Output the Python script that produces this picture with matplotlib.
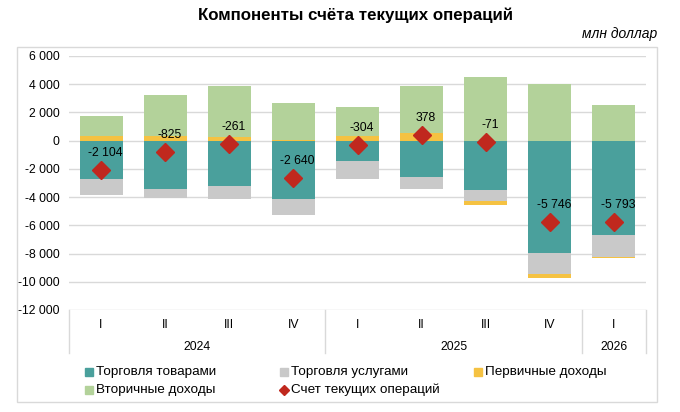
import matplotlib
matplotlib.use("Agg")
import matplotlib.pyplot as plt
from matplotlib.patches import Rectangle
from matplotlib.lines import Line2D
import numpy as np

plt.rcParams['font.family'] = ['Liberation Sans', 'DejaVu Sans']

quarters = ["I", "II", "III", "IV", "I", "II", "III", "IV", "I"]
years = ["2024", "2025", "2026"]
year_spans = [(0, 3), (4, 7), (8, 8)]

goods = [-2750, -3400, -3230, -4140, -1420, -2580, -3530, -7950, -6700]
services = [-1130, -690, -920, -1160, -1270, -880, -780, -1480, -1530]
primary = [330, 355, 240, 20, 355, 520, -260, -300, -60]
secondary = [1420, 2890, 3640, 2620, 2030, 3320, 4500, 3990, 2500]
current = [-2104, -825, -261, -2640, -304, 378, -71, -5746, -5793]

c_goods = "#4aa09c"
c_serv = "#c9c9c9"
c_prim = "#f5c242"
c_sec = "#b3d29a"
c_ca = "#c0281e"

fig = plt.figure(figsize=(6.8, 4.12), dpi=100)
W, H = 680, 412
ax = fig.add_axes([69 / W, 1 - 310 / H, (646 - 69) / W, (310 - 56) / H])

x = np.arange(len(quarters))
bw = 0.67
goods = np.array(goods, float)
services = np.array(services, float)
primary = np.array(primary, float)
secondary = np.array(secondary, float)

pos_base = np.zeros(len(x))
neg_base = np.zeros(len(x))
for vals, col in [(goods, c_goods), (services, c_serv), (primary, c_prim), (secondary, c_sec)]:
    bottoms = np.where(vals >= 0, pos_base, neg_base)
    ax.bar(x, vals, bw, bottom=bottoms, color=col, zorder=2, linewidth=0)
    pos_base = pos_base + np.where(vals >= 0, vals, 0)
    neg_base = neg_base + np.where(vals < 0, vals, 0)

ax.plot(x, current, linestyle='none', marker='D', markersize=9.5, color=c_ca, zorder=4)
for xi, v in zip(x, current):
    lab = f"{v:,}".replace(",", " ")
    ax.annotate(lab, (xi, v), xytext=(3, 8), textcoords='offset points',
                ha='center', va='bottom', fontsize=8.8, zorder=5)

ax.set_xlim(-0.5, len(x) - 0.5)
ax.set_ylim(-12000, 6000)
ax.set_yticks(np.arange(-12000, 6001, 2000))
ax.set_yticklabels([f"{t:,}".replace(",", " ") for t in range(-12000, 6001, 2000)], fontsize=8.8)
ax.tick_params(axis='y', length=0, pad=7)
ax.set_xticks([])
for s in ax.spines.values():
    s.set_visible(False)
ax.grid(axis='y', color='#d9d9d9', linewidth=1, zorder=0)
ax.set_axisbelow(True)

# category axis
trans = ax.get_xaxis_transform()
for xi, q in zip(x, quarters):
    ax.text(xi, -0.059, q, transform=trans, ha='center', va='center', fontsize=8.8)
for (a, b), y in zip(year_spans, years):
    ax.text((a + b) / 2, -0.146, y, transform=trans, ha='center', va='center', fontsize=8.8)
for sep in [-0.5, 3.5, 7.5, 8.5]:
    ax.add_line(Line2D([sep, sep], [0, -0.169], transform=trans, color='#d9d9d9',
                       linewidth=1, clip_on=False))

# outer frame
fig.add_artist(Rectangle((17 / W, 1 - 402 / H), (657 - 17) / W, (402 - 47) / H,
                         transform=fig.transFigure, fill=False, edgecolor='#d9d9d9', linewidth=1))

fig.text(356 / W, 1 - 15 / H, "Компоненты счёта текущих операций", ha='center', va='center',
         fontsize=12.2, fontweight='bold')
fig.text(657 / W, 1 - 34 / H, "млн доллар", ha='right', va='center', fontsize=10, style='italic')

# legend
def leg_item(px, py, label, color, marker='s'):
    fig.add_artist(Line2D([px / W], [1 - py / H], marker=marker, markersize=6 if marker == 's' else 5.5,
                          color=color, linestyle='none', transform=fig.transFigure))
    fig.text((px + 7) / W, 1 - py / H, label, ha='left', va='center', fontsize=9.7)

leg_item(89, 372, "Торговля товарами", c_goods)
leg_item(284, 372, "Торговля услугами", c_serv)
leg_item(478, 372, "Первичные доходы", c_prim)
leg_item(89, 390, "Вторичные доходы", c_sec)
leg_item(284, 390, "Счет текущих операций", c_ca, marker='D')

fig.savefig("out.png", dpi=100)
